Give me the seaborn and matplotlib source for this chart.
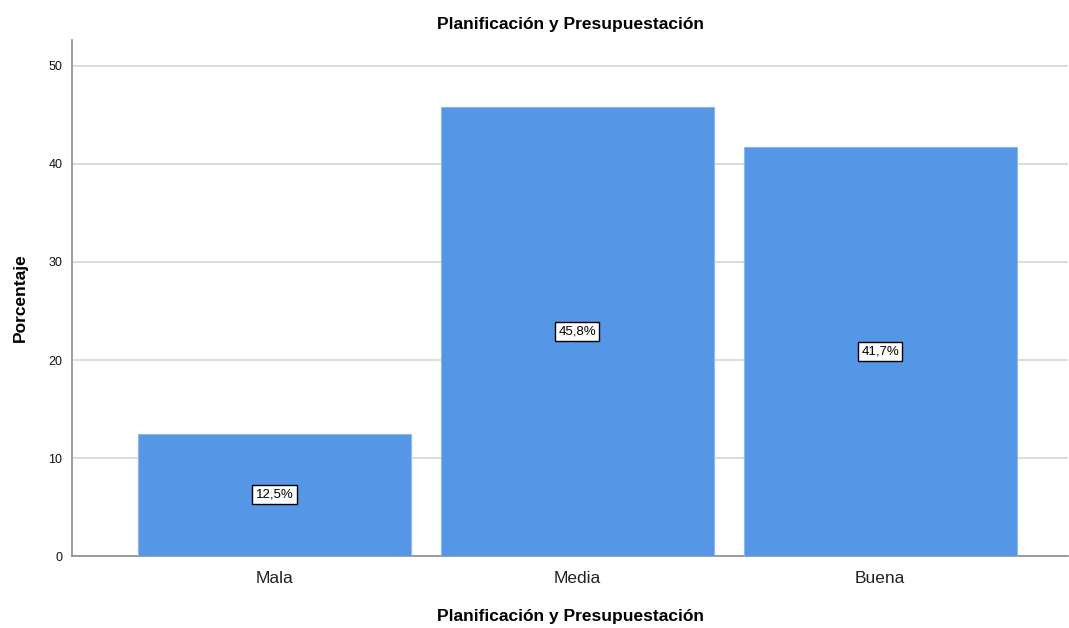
import matplotlib
matplotlib.use("Agg")
import matplotlib.pyplot as plt
import seaborn as sns
import pandas as pd

categorias = ["Mala", "Media", "Buena"]
porcentajes = [12.5, 45.8, 41.7]
etiquetas = ["12,5%", "45,8%", "41,7%"]
yticks = [0, 10, 20, 30, 40, 50]

sns.set_theme(style="white")
plt.rcParams["font.family"] = ["Liberation Sans", "DejaVu Sans"]

df = pd.DataFrame({"cat": categorias, "pct": porcentajes})

fig = plt.figure(figsize=(10.69, 6.28), dpi=100)
ax = fig.add_axes([0.0674, 0.1146, 0.9317, 0.8217])

sns.barplot(data=df, x="cat", y="pct", order=categorias, color="#5596E6",
            saturation=1, width=0.9, edgecolor="#8BB8EE", linewidth=0.8,
            ax=ax, zorder=3)

for i, (v, t) in enumerate(zip(porcentajes, etiquetas)):
    ax.text(i, v / 2, t, ha="center", va="center", fontsize=9.5, color="black",
            zorder=5,
            bbox=dict(boxstyle="square,pad=0.25", facecolor="white",
                      edgecolor="black", linewidth=1))

ax.set_ylim(0, 52.65)
ax.set_xlim(-0.668, 2.62)
ax.set_yticks(yticks)
ax.set_yticklabels([str(v) for v in yticks], fontsize=9, color="#111111")
ax.tick_params(axis="x", labelsize=12.5, colors="#222222", length=0, pad=11)
ax.tick_params(axis="y", length=0, pad=7)
ax.yaxis.grid(True, color="#D6D6D6", linewidth=1.2, zorder=0)
ax.set_axisbelow(True)

for s in ["top", "right"]:
    ax.spines[s].set_visible(False)
for s in ["left", "bottom"]:
    ax.spines[s].set_color("#8C8C8C")
    ax.spines[s].set_linewidth(1.2)

ax.set_title("Planificación y Presupuestación", fontsize=12.5, fontweight="bold",
             color="black", pad=8)
ax.set_xlabel("Planificación y Presupuestación", fontsize=12.5,
              fontweight="bold", color="black", labelpad=16)
ax.set_ylabel("Porcentaje", fontsize=12.5, fontweight="bold", color="black",
              labelpad=15)

fig.savefig("out.png", dpi=100)
